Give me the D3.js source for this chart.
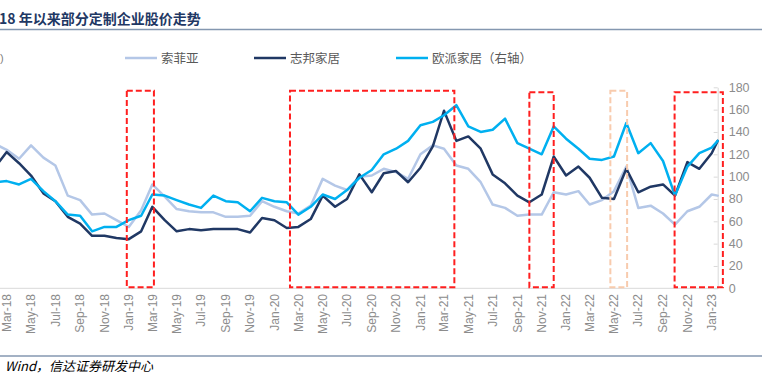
<!DOCTYPE html>
<html><head><meta charset="utf-8">
<script src="https://cdn.jsdelivr.net/npm/d3@7"></script>
<style>
html,body{margin:0;padding:0;background:#fff;}
svg{display:block;}
</style></head>
<body>
<svg id="chart" width="773" height="375"></svg>
<script>
// ---- data ----
const titleText = "18 年以来部分定制企业股价走势";
const sourceText = "Wind，信达证券研发中心";
const seriesNames = ["索菲亚", "志邦家居", "欧派家居（右轴）"];
// monthly observations Jan-18 .. Jan-23, plus the latest observation
const months = d3.timeMonth.range(new Date(2018, 0, 1), new Date(2023, 1, 1));
const lastDate = new Date(2023, 0, 16);
const dates = months.concat([lastDate]);
const sofia = [125,129,124,116,128,117,110,83,79,66,67,61,55,70,93,82,71,69,68,68,64,64,65,78,73,69,67,74,98,92,88,100,101,107,104,98,120,128,125,110,107,95,75,72,65,66,66,86,84,87,75,79,87,109,72,74,67,57,69,73,84,83];
const zbjj  = [100,109,122,112,101,85,78,64,58,47,47,45,44,51,73,61,51,53,52,53,53,53,50,63,61,54,55,62,83,73,80,102,86,103,105,95,108,127,159,132,136,125,102,94,83,77,84,118,101,109,99,81,80,107,86,91,93,83,113,107,121,132];
const opjj  = [97,95,96,93,98,87,78,66,65,51,55,55,61,65,84,83,79,75,72,83,78,77,69,81,78,77,66,73,84,80,88,99,106,120,125,132,146,149,155,164,145,140,142,152,130,125,120,145,134,125,116,115,118,148,121,130,114,83,109,121,126,132];
const xTickLabels = ["Mar-18","May-18","Jul-18","Sep-18","Nov-18","Jan-19","Mar-19","May-19","Jul-19","Sep-19","Nov-19","Jan-20","Mar-20","May-20","Jul-20","Sep-20","Nov-20","Jan-21","Mar-21","May-21","Jul-21","Sep-21","Nov-21","Jan-22","Mar-22","May-22","Jul-22","Sep-22","Nov-22","Jan-23"];
const yTicks = [0,20,40,60,80,100,120,140,160,180];
// highlighted periods (start, end, kind)
const boxStarts = ["2018-12-27","2020-02-09","2021-10-01","2022-04-22","2022-09-30"];
const boxEnds   = ["2019-03-05","2021-03-27","2021-12-01","2022-06-03","2023-01-29"];
const boxKinds  = ["red","red","red","peach","red"];
const boxTops   = [177,177,175.5,177,175.5];

// ---- scales ----
const svg = d3.select("#chart");
const x = d3.scaleTime().domain([new Date(2018,2,1), new Date(2023,0,1)]).range([6.7, 711.7]);
const yR = d3.scaleLinear().domain([0,180]).range([288.3, 87.3]);
const yL = d3.scaleLinear().domain([0,180]).range([288.3, 87.3]); // left axis (outside the crop)
const axisX = x(lastDate);

const colors = ["#b4c7e7", "#203864", "#00b0f0"];
const cjk = "'Noto Sans CJK SC','Noto Sans',sans-serif";
const lat = "'Liberation Sans',Arial,sans-serif";

// title
svg.append("text").attr("x", -1).attr("y", 24).text(titleText)
  .attr("font-family", cjk).attr("font-weight", 700).attr("font-size", 14).attr("fill", "#1f3864");
svg.append("line").attr("x1", 0).attr("x2", 762).attr("y1", 29.5).attr("y2", 29.5)
  .attr("stroke", "#8497b0").attr("stroke-width", 1.5);

// legend
svg.append("text").attr("x", 0).attr("y", 62).text(")").attr("font-family", lat).attr("font-size", 11).attr("fill", "#7f7f7f");
const legX = [125, 254, 396];
seriesNames.forEach((n, i) => {
  svg.append("line").attr("x1", legX[i]).attr("x2", legX[i] + 32).attr("y1", 58).attr("y2", 58)
    .attr("stroke", colors[i]).attr("stroke-width", 2.5);
  svg.append("text").attr("x", legX[i] + 36).attr("y", 62.5).text(n)
    .attr("font-family", cjk).attr("font-size", 12.5).attr("fill", "#595959");
});

// x axis line
svg.append("line").attr("x1", -30).attr("x2", axisX).attr("y1", yR(0)).attr("y2", yR(0))
  .attr("stroke", "#d9d9d9").attr("stroke-width", 1);

// x labels
const parseM = d3.timeParse("%b-%y");
svg.append("g").selectAll("text").data(xTickLabels).join("text")
  .attr("transform", d => `translate(${x(parseM(d))},294) rotate(-90)`)
  .attr("dy", "0.35em").attr("text-anchor", "end")
  .attr("font-family", lat).attr("font-size", 12).attr("fill", "#8c8c8c")
  .text(d => d);

// right axis
const ra = svg.append("g").attr("transform", `translate(${axisX},0)`)
  .call(d3.axisRight(yR).tickValues(yTicks).tickSizeInner(-4).tickSizeOuter(0).tickPadding(11));
ra.select(".domain").attr("stroke", "#d9d9d9");
ra.selectAll(".tick line").attr("stroke", "#d9d9d9");
ra.selectAll(".tick text").attr("font-family", lat).attr("font-size", 12.5).attr("fill", "#8c8c8c");

// lines
const seriesData = [sofia, zbjj, opjj];
const scales = [yL, yL, yR];
seriesData.forEach((vals, i) => {
  const line = d3.line().x((d, j) => x(dates[j])).y(d => scales[i](d));
  svg.append("path").datum(vals).attr("d", line)
    .attr("fill", "none").attr("stroke", colors[i]).attr("stroke-width", 2.5)
    .attr("stroke-linejoin", "round").attr("stroke-linecap", "round");
});

// highlight boxes
const pd = d3.timeParse("%Y-%m-%d");
boxStarts.forEach((s, i) => {
  const x0 = x(pd(s)), x1 = x(pd(boxEnds[i]));
  svg.append("rect").attr("x", x0).attr("y", yR(boxTops[i])).attr("width", x1 - x0)
    .attr("height", yR(1) - yR(boxTops[i]))
    .attr("fill", "none")
    .attr("stroke", boxKinds[i] === "red" ? "#ff1f1f" : "#f8cbad")
    .attr("stroke-width", 2).attr("stroke-dasharray", "6,3");
});

// bottom rule and source
svg.append("line").attr("x1", 0).attr("x2", 762).attr("y1", 356).attr("y2", 356)
  .attr("stroke", "#8497b0").attr("stroke-width", 1.5);
svg.append("text").attr("x", 5).attr("y", 371).text(sourceText)
  .attr("font-family", cjk).attr("font-style", "italic").attr("font-size", 13).attr("fill", "#000");
</script>
</body></html>
